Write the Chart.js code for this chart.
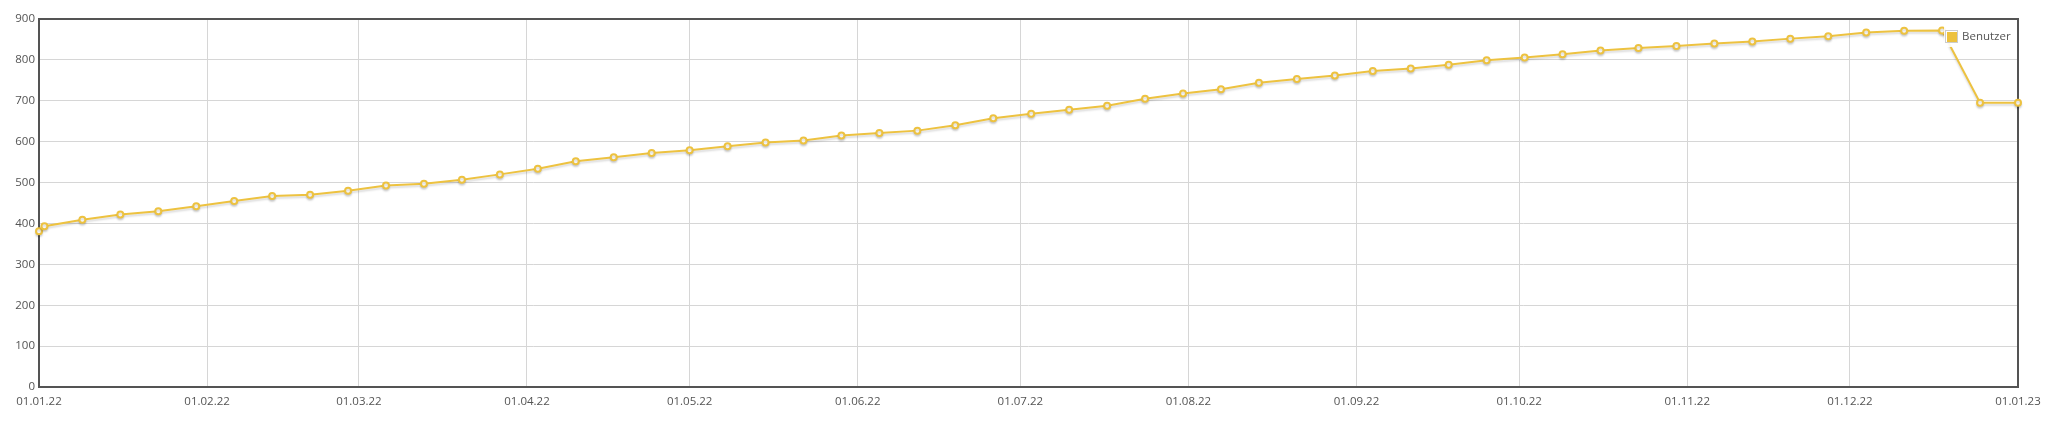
<!DOCTYPE html>
<html>
<head>
<meta charset="utf-8">
<script src="https://cdn.jsdelivr.net/npm/chart.js@4.4.0/dist/chart.umd.min.js"></script>
<style>
    body { margin: 0; background: #ffffff; }
    #wrap { width: 2049px; height: 427px; position: relative; }
</style>
</head>
<body>
<div id="wrap"><canvas id="users_chart"></canvas></div>
<script>
// weekly user count (Sundays), plus the first and last day of the year
var dates = [
    "2022-01-01",
    "2022-01-02", "2022-01-09", "2022-01-16", "2022-01-23", "2022-01-30",
    "2022-02-06", "2022-02-13", "2022-02-20", "2022-02-27",
    "2022-03-06", "2022-03-13", "2022-03-20", "2022-03-27",
    "2022-04-03", "2022-04-10", "2022-04-17", "2022-04-24",
    "2022-05-01", "2022-05-08", "2022-05-15", "2022-05-22", "2022-05-29",
    "2022-06-05", "2022-06-12", "2022-06-19", "2022-06-26",
    "2022-07-03", "2022-07-10", "2022-07-17", "2022-07-24", "2022-07-31",
    "2022-08-07", "2022-08-14", "2022-08-21", "2022-08-28",
    "2022-09-04", "2022-09-11", "2022-09-18", "2022-09-25",
    "2022-10-02", "2022-10-09", "2022-10-16", "2022-10-23", "2022-10-30",
    "2022-11-06", "2022-11-13", "2022-11-20", "2022-11-27",
    "2022-12-04", "2022-12-11", "2022-12-18", "2022-12-25",
    "2023-01-01"
];
var users = [
    381,
    393, 409, 422, 430, 442,
    455, 467, 470, 480,
    493, 497, 507, 520,
    534, 552, 562, 572,
    579, 589, 598, 603, 615,
    621, 627, 640, 657,
    668, 678, 688, 705, 718,
    728, 744, 753, 762,
    773, 779, 788, 799,
    806, 814, 823, 829, 834,
    840, 845, 852, 858,
    867, 871, 872, 695,
    695
];
var tickDates = [
    "2022-01-01", "2022-02-01", "2022-03-01", "2022-04-01", "2022-05-01", "2022-06-01", "2022-07-01",
    "2022-08-01", "2022-09-01", "2022-10-01", "2022-11-01", "2022-12-01", "2023-01-01"
];
var seriesName = "Benutzer";

var startMs = Date.UTC(2022, 0, 1);
function dayOf(s) {
    var p = s.split("-");
    return Math.round((Date.UTC(+p[0], +p[1] - 1, +p[2]) - startMs) / 86400000);
}
function fmtDay(d) {
    var dt = new Date(startMs + d * 86400000);
    var dd = ("0" + dt.getUTCDate()).slice(-2);
    var mm = ("0" + (dt.getUTCMonth() + 1)).slice(-2);
    var yy = ("" + dt.getUTCFullYear()).slice(-2);
    return dd + "." + mm + "." + yy;
}

var points = [];
for (var i = 0; i < dates.length; i++) {
    points.push({ x: dayOf(dates[i]), y: users[i] });
}
var tickDays = tickDates.map(dayOf);

var lineColor = "#edc240";
var textColor = "#545454";

var flotPlugin = {
    id: "flotLook",
    beforeDatasetsDraw: function (chart) {
        // plot frame, under the data
        var a = chart.chartArea;
        var ctx = chart.ctx;
        ctx.save();
        ctx.strokeStyle = textColor;
        ctx.lineWidth = 2;
        ctx.strokeRect(a.left, a.top, a.right - a.left, a.bottom - a.top);
        ctx.restore();
    },
    beforeDatasetDraw: function (chart) {
        var ctx = chart.ctx;
        ctx.save();
        ctx.shadowColor = "rgba(0,0,0,0.15)";
        ctx.shadowOffsetX = 0;
        ctx.shadowOffsetY = 2;
        ctx.shadowBlur = 2;
    },
    afterDatasetDraw: function (chart) {
        chart.ctx.restore();
    },
    afterDatasetsDraw: function (chart) {
        // legend box, top right inside the plot
        var a = chart.chartArea;
        var ctx = chart.ctx;
        var right = a.right - 5;
        var top = a.top + 5;
        ctx.save();
        ctx.fillStyle = "rgba(255,255,255,0.9)";
        ctx.fillRect(right - 69, top, 69, 23);
        ctx.fillStyle = "#ffffff";
        ctx.fillRect(1945.5, 30.5, 12, 12);
        ctx.strokeStyle = "#cccccc";
        ctx.lineWidth = 1;
        ctx.strokeRect(1945.5, 30.5, 12, 12);
        ctx.fillStyle = lineColor;
        ctx.fillRect(1947, 32, 10, 10);
        ctx.fillStyle = textColor;
        ctx.font = "11.5px 'Open Sans'";
        ctx.textBaseline = "middle";
        ctx.textAlign = "left";
        ctx.fillText(seriesName, 1962, 37);
        ctx.restore();
    }
};

var chart = new Chart(document.getElementById("users_chart"), {
    type: "line",
    data: {
        datasets: [{
            label: seriesName,
            data: points,
            borderColor: lineColor,
            borderWidth: 2,
            pointRadius: 3,
            pointBorderWidth: 2,
            pointBackgroundColor: "#ffffff",
            pointBorderColor: lineColor,
            tension: 0,
            clip: false
        }]
    },
    options: {
        responsive: true,
        maintainAspectRatio: false,
        animation: false,
        layout: {
            padding: { top: 19, right: 31, left: 0, bottom: 0 }
        },
        plugins: {
            legend: { display: false },
            tooltip: { enabled: false }
        },
        scales: {
            x: {
                type: "linear",
                min: 0,
                max: 365,
                afterBuildTicks: function (scale) {
                    scale.ticks = tickDays.map(function (d) { return { value: d }; });
                },
                afterFit: function (scale) { scale.height = 40; },
                grid: { color: "#d6d6d6", lineWidth: 1, drawTicks: false },
                border: { display: false },
                ticks: {
                    color: textColor,
                    font: { family: "'Open Sans'", size: 11.5 },
                    padding: 8,
                    maxRotation: 0,
                    autoSkip: false,
                    callback: function (v) { return fmtDay(v); }
                }
            },
            y: {
                min: 0,
                max: 900,
                afterFit: function (scale) { scale.width = 39; },
                grid: { color: "#d6d6d6", lineWidth: 1, drawTicks: false },
                border: { display: false },
                ticks: {
                    stepSize: 100,
                    color: textColor,
                    font: { family: "'Open Sans'", size: 11.5 },
                    padding: 4
                }
            }
        }
    },
    plugins: [flotPlugin]
});
</script>
</body>
</html>
